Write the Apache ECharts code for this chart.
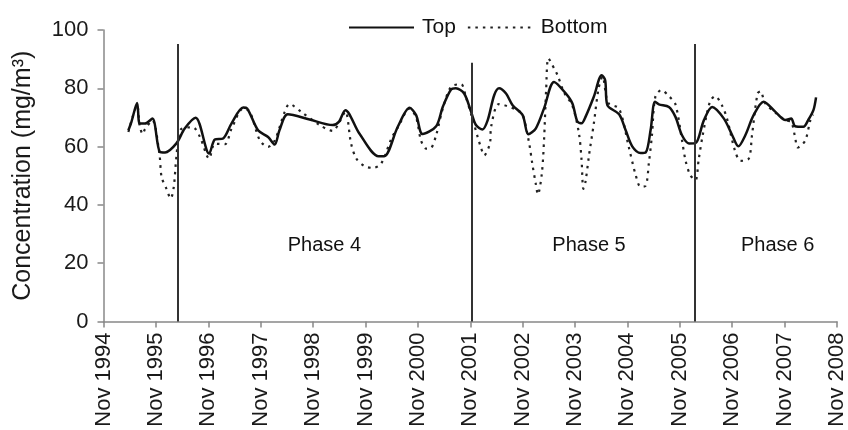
<!DOCTYPE html>
<html>
<head>
<meta charset="utf-8">
<script src="https://cdn.jsdelivr.net/npm/echarts@6/dist/echarts.min.js"></script>
<style>html,body{margin:0;padding:0;background:#fff;}#c{width:848px;height:430px;}</style>
</head>
<body>
<div id="c"></div>
<script>
// x = months since Nov 1994
var tickLabels = ['Nov 1994','Nov 1995','Nov 1996','Nov 1997','Nov 1998','Nov 1999','Nov 2000','Nov 2001','Nov 2002','Nov 2003','Nov 2004','Nov 2005','Nov 2006','Nov 2007','Nov 2008'];

var topX = [5.7,6.4,7.7,8.3,9.5,11.2,12.9,14.1,16.7,18.6,21.1,24.2,25.5,27.4,29.3,32.0,32.9,35.4,37.7,39.2,40.3,42.2,47.2,52.5,53.9,55.4,58.6,63.0,64.3,67.4,70.1,71.6,73.1,76.2,77.7,79.6,80.7,82.6,84.2,85.3,86.8,88.0,89.5,90.6,92.2,93.7,96.0,97.3,99.0,100.9,103.2,105.9,107.4,108.5,109.5,110.4,112.3,114.1,114.9,115.4,118.1,119.6,121.1,123.0,124.2,125.3,126.3,127.2,129.5,131.0,132.5,134.1,135.6,137.5,139.4,142.1,144.0,145.4,147.0,148.9,151.2,153.9,156.2,157.5,158.4,160.3,161.4,162.6,163.2];
var topY = [65.6,68.5,75.0,67.9,67.9,69.6,58.2,58.0,61.1,66.2,69.9,57.6,62.4,62.8,67.9,73.4,73.1,65.6,63.3,60.7,65.6,71.1,69.3,67.4,68.5,72.5,64.5,56.7,56.7,66.8,73.3,70.8,64.3,67.0,73.6,79.6,80.0,78.2,71.9,67.4,65.9,69.1,77.7,80.0,78.2,74.2,70.8,64.2,66.2,73.1,82.2,78.2,74.8,68.7,68.0,70.2,77.1,84.5,82.8,74.2,71.1,65.6,60.1,57.8,58.0,65.6,75.4,74.5,73.6,70.2,63.9,61.1,61.2,69.0,73.6,69.6,63.9,60.1,63.9,70.8,75.4,71.9,69.1,69.6,67.0,66.8,69.1,72.5,76.9];

var botX = [5.7,7.7,8.3,9.0,9.5,11.2,12.8,13.3,14.4,15.4,16.1,16.7,17.7,20.5,22.1,24.2,25.5,27.8,29.3,32.0,33.5,35.8,37.7,39.2,41.5,42.6,45.3,49.5,52.5,53.9,55.4,56.7,57.9,59.8,61.7,63.6,66.0,67.4,70.1,71.6,72.7,73.9,75.0,76.2,77.7,79.6,81.9,83.0,84.5,85.7,86.4,87.2,88.5,88.8,90.6,94.8,96.0,97.5,98.2,99.0,99.5,100.4,100.9,101.4,101.9,103.2,104.0,105.5,107.4,108.9,109.5,109.9,110.4,111.2,112.3,113.4,114.3,115.6,118.1,120.3,121.9,123.0,124.2,124.9,125.6,126.4,127.8,129.5,131.0,132.5,133.3,134.4,135.6,136.3,137.2,138.9,140.1,141.7,142.8,144.6,145.9,147.8,148.5,149.8,150.5,151.5,154.0,156.2,157.5,158.4,159.0,160.7,161.9,162.5];
var botY = [65.0,74.0,67.0,64.3,66.0,69.0,57.6,49.6,45.6,42.2,46.2,56.5,65.9,66.6,63.3,55.9,61.0,60.8,66.0,73.0,72.0,62.2,59.9,62.0,71.9,74.6,71.9,67.4,65.4,68.0,72.0,61.1,55.9,53.3,52.7,54.2,63.0,66.5,73.0,70.0,62.2,59.3,59.5,64.0,73.0,80.5,81.4,77.0,69.6,63.3,59.9,57.0,61.1,67.0,74.6,72.5,71.0,61.1,54.2,47.3,43.6,50.8,62.2,80.0,90.3,86.8,84.5,78.5,74.0,64.5,55.3,45.5,48.0,57.0,67.9,80.0,84.0,75.0,73.0,59.9,50.2,46.2,46.6,54.2,63.6,77.1,79.4,77.3,74.5,62.2,55.3,50.2,48.5,55.3,63.6,75.4,77.3,74.0,69.6,58.8,55.1,55.9,63.5,78.2,79.0,75.0,71.5,69.0,68.5,63.3,59.7,62.0,69.1,71.0];

var phaseX = [16.9, 84.3, 135.4];
var phaseTop = [95.2, 88.8, 95.2];
var phaseNames = ['Phase 4', 'Phase 5', 'Phase 6'];
var phaseLabelX = [50.6, 111.2, 154.4];
var phaseLabelY = [26, 26, 26];

function pairs(xs, ys){ return xs.map(function(x,i){ return [x, ys[i]]; }); }

var chart = echarts.init(document.getElementById('c'));
var font = 'Arial, "Liberation Sans", sans-serif';
chart.setOption({
  animation: false,
  backgroundColor: '#fff',
  textStyle: {fontFamily: font},
  grid: {left: 103.5, right: 10, top: 30, bottom: 108.5, containLabel: false},
  legend: {
    left: 343, top: 12,
    itemWidth: 65, itemHeight: 14, itemGap: 11,
    itemStyle: {opacity: 0},
    textStyle: {fontSize: 21, color: '#111', fontFamily: font, padding: [0,0,0,3]},
    data: ['Top', 'Bottom']
  },
  xAxis: {
    type: 'value', min: 0, max: 168, interval: 12,
    splitLine: {show: false},
    axisLine: {lineStyle: {color: '#888', width: 1.5}},
    axisTick: {length: 6, lineStyle: {color: '#888', width: 1.5}},
    axisLabel: {rotate: 90, margin: 11, fontSize: 22, color: '#1a1a1a', fontFamily: font,
      formatter: function(v){ return tickLabels[Math.round(v/12)] || ''; }}
  },
  yAxis: {
    type: 'value', min: 0, max: 100, interval: 20,
    name: 'Concentration (mg/m\u00B3)', nameLocation: 'middle', nameRotate: 90, nameGap: 68,
    nameTextStyle: {fontSize: 25, color: '#1a1a1a', fontFamily: font},
    splitLine: {show: false},
    axisLine: {show: true, lineStyle: {color: '#888', width: 1.5}},
    axisTick: {show: true, length: 6, lineStyle: {color: '#888', width: 1.5}},
    axisLabel: {fontSize: 22, color: '#1a1a1a', margin: 15, fontFamily: font}
  },
  series: [
    {
      name: 'Top', type: 'line', data: pairs(topX, topY), smooth: 0.3, symbol: 'none',
      lineStyle: {color: '#111', width: 2.5, type: 'solid'}, itemStyle: {color: '#111'},
      z: 3,
      markLine: {
        silent: true, symbol: ['none','none'], label: {show: false},
        lineStyle: {color: '#333', width: 2, type: 'solid'},
        data: phaseX.map(function(x,i){ return [{coord: [x, 0]}, {coord: [x, phaseTop[i]]}]; })
      }
    },
    {
      name: 'Bottom', type: 'line', data: pairs(botX, botY), smooth: 0.3, symbol: 'none',
      lineStyle: {color: '#222', width: 2.2, type: [2.5, 5]}, itemStyle: {color: '#222'},
      z: 2
    },
    {
      name: 'phases', type: 'scatter', symbolSize: 0, silent: true,
      itemStyle: {opacity: 1},
      data: phaseLabelX.map(function(x,i){ return {value: [x, phaseLabelY[i]], name: phaseNames[i]}; }),
      label: {show: true, position: 'inside', opacity: 1, formatter: function(p){ return p.name; }, fontSize: 20, color: '#111', fontFamily: font}
    }
  ]
});
</script>
</body>
</html>
